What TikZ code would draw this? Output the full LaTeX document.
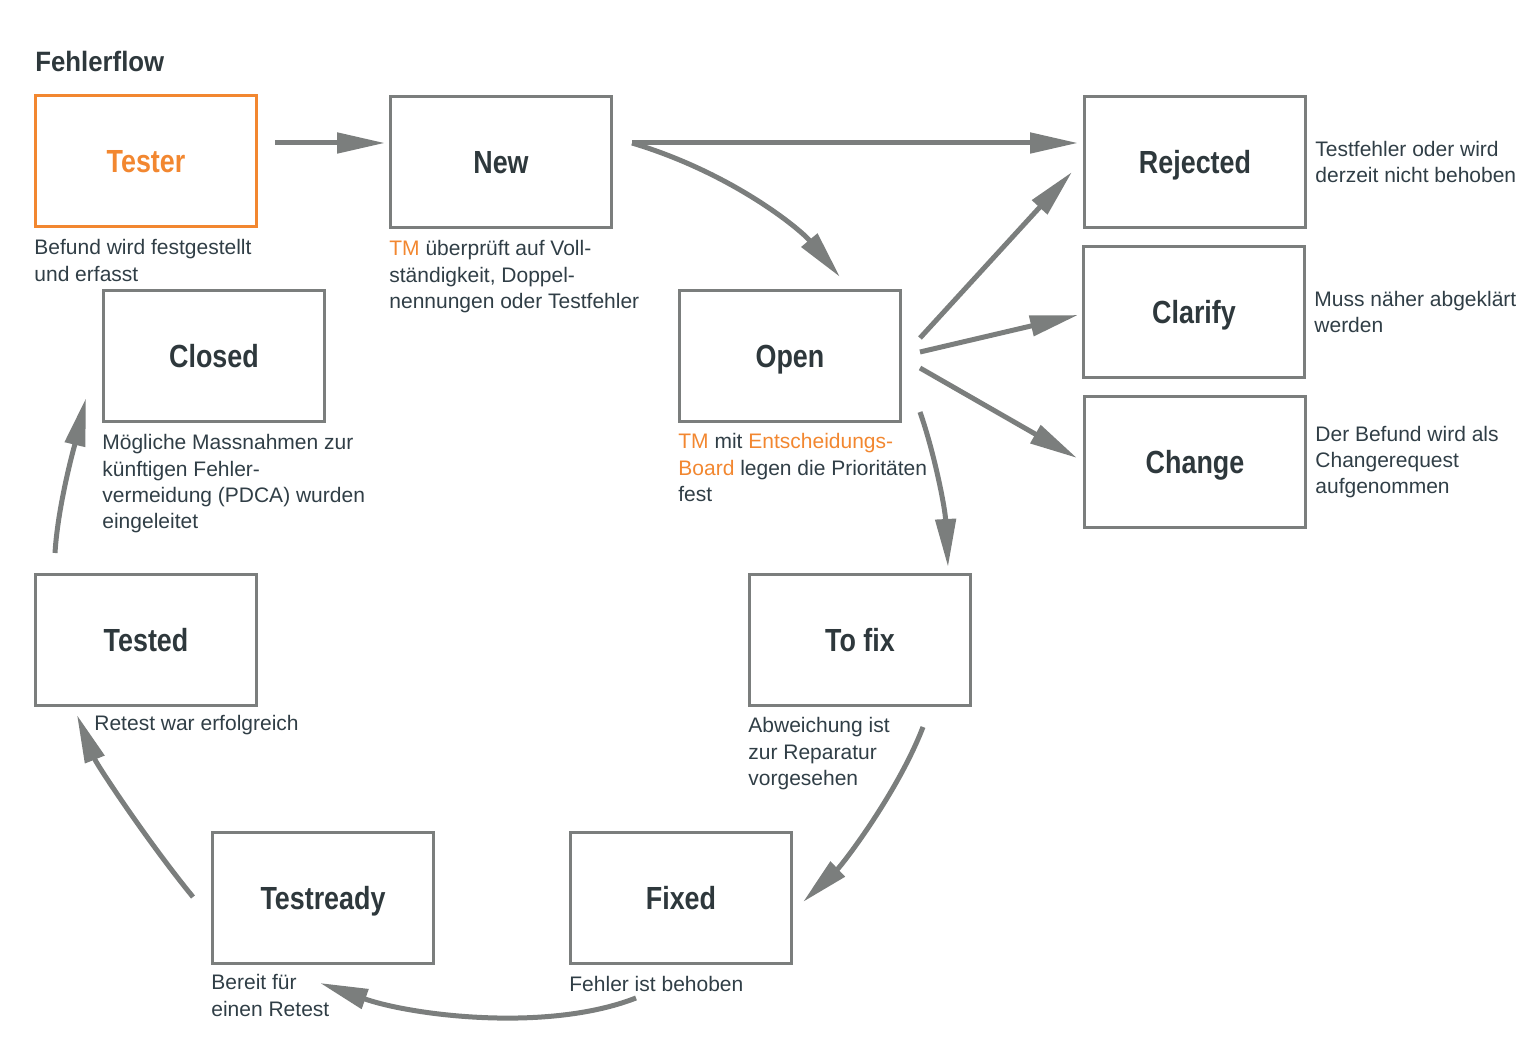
\documentclass[tikz,border=0pt]{standalone}
\usepackage{fontspec}
\setmainfont{Liberation Sans}
\newfontfamily\labelfont[FakeStretch=0.84]{Liberation Sans}
\newfontfamily\titlefont[FakeStretch=0.92]{Liberation Sans}
\usepackage{xcolor}
\usetikzlibrary{arrows.meta,positioning}
\definecolor{linegray}{RGB}{123,126,125}
\definecolor{tmorange}{RGB}{242,135,48}
\definecolor{labeltext}{RGB}{46,56,60}
\definecolor{notetext}{RGB}{48,62,70}
\newcommand{\tm}[1]{\textcolor{tmorange}{#1}}

\begin{document}
\begin{tikzpicture}[
    x=0.5pt, y=-0.5pt,
    node distance = 5.5pt,
    state/.style = {draw=linegray, line width=1.5pt, minimum width=110.5pt,
      minimum height=65.5pt, inner sep=0pt, text=labeltext,
      text height=11.5pt, text depth=0pt,
      font=\labelfont\bfseries\fontsize{16}{19}\selectfont},
    note/.style = {align=left, inner sep=0pt, text=notetext,
      font=\fontsize{10.5}{13.2}\selectfont},
    flow/.style = {draw=linegray, line width=2.5pt,
      -{Triangle[length=24pt,width=10pt]}}]
    \useasboundingbox (0,0) rectangle (1532,1052);
    % NODES
    % title
    \node[anchor=west, inner sep=0pt, text=labeltext,
      font=\titlefont\bfseries\fontsize{14}{17}\selectfont] (title) at (35,62) {Fehlerflow};
    % upper row
    \node[state, draw=tmorange, text=tmorange] (tester) at (146,161) {Tester};
    \node[state] (new) at (501,162) {New};
    \node[state] (rejected) at (1195,162) {Rejected};
    \node[state] (clarify) at (1194,312) {Clarify};
    \node[state] (change) at (1195,462) {Change};
    % middle row
    \node[state] (closed) at (214,356) {Closed};
    \node[state] (open) at (790,356) {Open};
    \node[state] (tested) at (146,640) {Tested};
    \node[state] (tofix) at (860,640) {To fix};
    % lower row
    \node[state] (testready) at (323,898) {Testready};
    \node[state] (fixed) at (681,898) {Fixed};

    % notes
    \node[note, below=5.5pt of tester.south west, anchor=north west] (testerNote)
      {Befund wird festgestellt\\und erfasst};
    \node[note, below=5.5pt of new.south west, anchor=north west] (newNote)
      {\tm{TM} überprüft auf Voll-\\ständigkeit, Doppel-\\nennungen oder Testfehler};
    \node[note, below=5pt of open.south west, anchor=north west] (openNote)
      {\tm{TM} mit \tm{Entscheidungs-}\\\tm{Board} legen die Prioritäten\\fest};
    \node[note, below=5.5pt of closed.south west, anchor=north west] (closedNote)
      {Mögliche Massnahmen zur\\künftigen Fehler-\\vermeidung (PDCA) wurden\\eingeleitet};
    \node[note, right=4pt of rejected] (rejectedNote)
      {Testfehler oder wird\\derzeit nicht behoben};
    \node[note, right=4pt of clarify] (clarifyNote)
      {Muss näher abgeklärt\\werden};
    \node[note, right=4pt of change] (changeNote)
      {Der Befund wird als\\Changerequest\\aufgenommen};
    \node[note, below=4pt of tested.south west, anchor=north west, xshift=30pt] (testedNote)
      {Retest war erfolgreich};
    \node[note, below=5pt of tofix.south west, anchor=north west] (tofixNote)
      {Abweichung ist\\zur Reparatur\\vorgesehen};
    \node[note, below=4.5pt of testready.south west, anchor=north west] (testreadyNote)
      {Bereit für\\einen Retest};
    \node[note, below=5.5pt of fixed.south west, anchor=north west] (fixedNote)
      {Fehler ist behoben};

    % ARROWS
    \draw[flow] ([shift={(17,-18)}]tester.east) -- ([shift={(-4,-19)}]new.west);
    \draw[flow] ([shift={(19,-19)}]new.east) -- ([shift={(-5,-19)}]rejected.west);
    \draw[flow] ([shift={(19,-19)}]new.east) .. controls +(100,30) and +(-40,-48) .. ([shift={(50,-12)}]open.north);
    \draw[flow] ([shift={(18,-18)}]open.east) -- ([shift={(-11,10)}]rejected.west);
    \draw[flow] ([shift={(18,-4)}]open.east) -- ([shift={(-4,3)}]clarify.west);
    \draw[flow] ([shift={(18,12)}]open.east) -- ([shift={(-6,-4)}]change.west);
    \draw[flow] ([shift={(18,-11)}]open.south east) .. controls +(14,40) and +(-3,-60) .. ([shift={(88,-6)}]tofix.north);
    \draw[flow] ([shift={(-49,20)}]tofix.south east) .. controls +(-25,65) and +(40,-38) .. ([shift={(10,4)}]fixed.east);
    \draw[flow] ([shift={(-45,33)}]fixed.south) .. controls +(-90,35) and +(90,32) .. ([shift={(-3,18)}]testready.south);
    \draw[flow] ([shift={(-18,-1)}]testready.west) .. controls +(-45,-55) and +(20,50) .. ([shift={(-69,8)}]tested.south);
    \draw[flow] ([shift={(21,-20)}]tested.north west) .. controls +(3,-50) and +(-10,42) .. ([shift={(-16,-25)}]closed.south west);
\end{tikzpicture}
\end{document}
